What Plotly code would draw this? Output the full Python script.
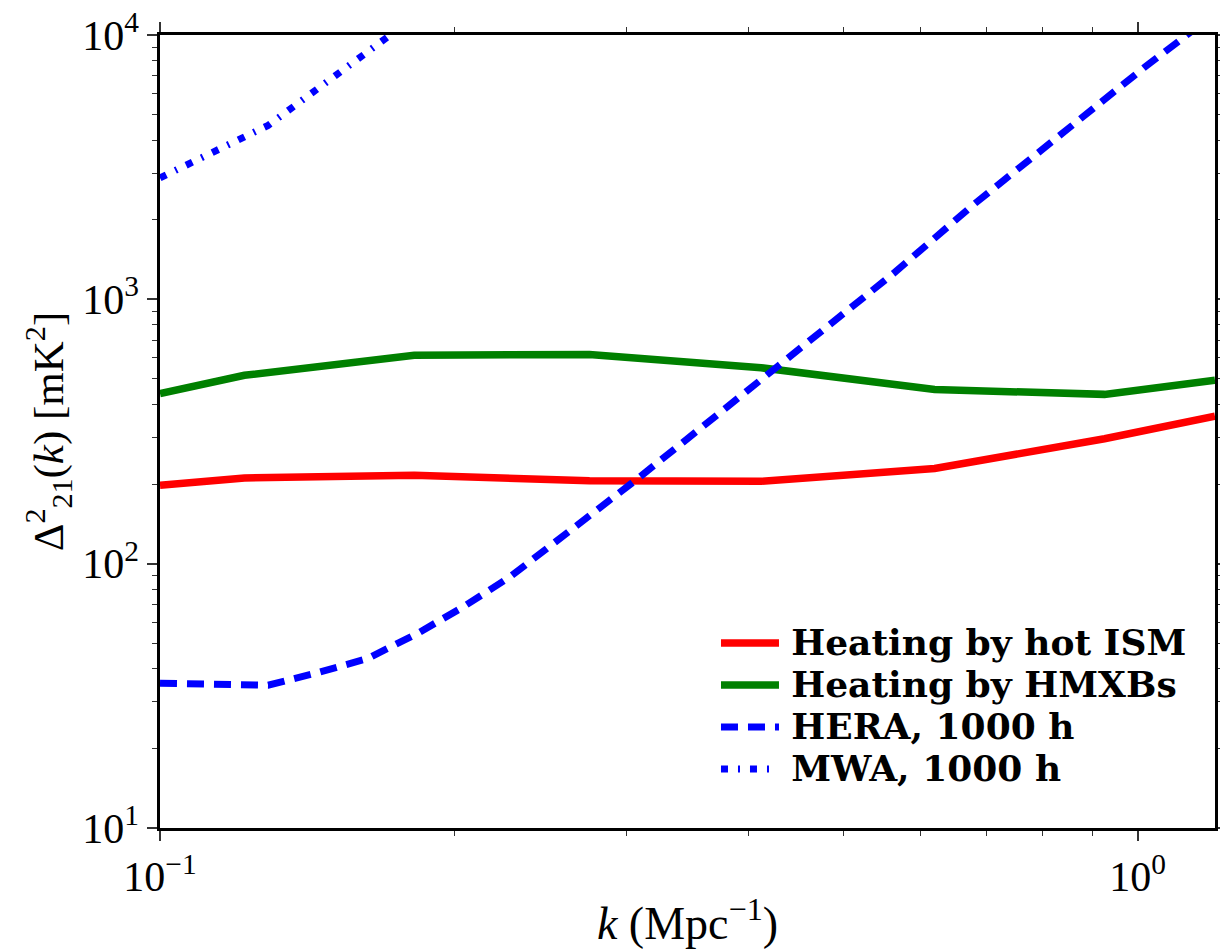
import plotly.graph_objects as go

# Model 21-cm power spectra, k in Mpc^-1, Delta^2 in mK^2
k_model = [0.1, 0.122, 0.182, 0.275, 0.412, 0.62, 0.925, 1.2]
ism_power = [198, 211, 216, 206, 205, 229, 297, 361]
hmxb_power = [440, 516, 614, 619, 551, 456, 437, 494]

# Thermal-noise sensitivity of the arrays (1000 h)
k_hera = [0.1, 0.129, 0.1446, 0.1632, 0.1836, 0.2041, 0.2279, 0.2522, 0.3082,
          0.3764, 0.4599, 0.5623, 0.6813, 0.8288, 1.0166, 1.1215, 1.2]
hera_noise = [35.3, 34.7, 38.6, 43.8, 54.6, 68.5, 89.0, 119, 210,
              380, 689, 1250, 2300, 4130, 7550, 9960, 12100]

k_mwa = [0.1, 0.129, 0.1446, 0.1632, 0.1836]
mwa_noise = [2880, 4550, 6220, 8650, 11950]

x_tickvals = [0.1, 1.0]
x_ticktext = ["10<sup>\u22121</sup>", "10<sup>0</sup>"]
y_tickvals = [10, 100, 1000, 10000]
y_ticktext = ["10<sup>1</sup>", "10<sup>2</sup>", "10<sup>3</sup>", "10<sup>4</sup>"]

x_minor = [m * 10 ** e for e in (-2, -1, 0) for m in range(2, 10)]
y_minor = [m * 10 ** e for e in (1, 2, 3) for m in range(2, 10)]

SERIF = "Liberation Serif, Times New Roman, serif"
LEGEND_FONT = "DejaVu Serif, serif"


def legend_label(text):
    return '<span style="font-size:36px">\u2009<b>' + text + '</b></span>'


fig = go.Figure()
fig.add_trace(go.Scatter(x=k_model, y=ism_power, mode="lines",
                         name=legend_label("Heating by hot ISM"),
                         line=dict(color="#ff0000", width=7.5)))
fig.add_trace(go.Scatter(x=k_model, y=hmxb_power, mode="lines",
                         name=legend_label("Heating by HMXBs"),
                         line=dict(color="#008000", width=7.5)))
fig.add_trace(go.Scatter(x=k_hera, y=hera_noise, mode="lines",
                         name=legend_label("HERA, 1000 h"),
                         line=dict(color="#0000ff", width=7, dash="17px,10px")))
fig.add_trace(go.Scatter(x=k_mwa, y=mwa_noise, mode="lines",
                         name=legend_label("MWA, 1000 h"),
                         line=dict(color="#0000ff", width=7, dash="7px,10px,2px,10px")))

axis_common = dict(
    type="log", automargin=False,
    showline=True, linecolor="black", linewidth=2.5, mirror="allticks",
    ticks="outside", ticklen=10, tickwidth=1.5, tickcolor="#333333",
    showgrid=False, zeroline=False,
    tickfont=dict(family=SERIF, size=42, color="black"),
)

fig.update_xaxes(
    **axis_common,
    range=[-1, 0.0792],
    tickmode="array", tickvals=x_tickvals, ticktext=x_ticktext,
    minor=dict(ticks="outside", ticklen=5, tickwidth=1.2, tickcolor="#333333",
               tickmode="array", tickvals=x_minor, showgrid=False),
    title=dict(text="<i>k</i> (Mpc<sup>\u22121</sup>)",
               font=dict(family=SERIF, size=46, color="black"), standoff=8),
)
fig.update_yaxes(
    **axis_common,
    range=[1, 4],
    tickmode="array", tickvals=y_tickvals, ticktext=y_ticktext,
    minor=dict(ticks="outside", ticklen=5, tickwidth=1.2, tickcolor="#333333",
               tickmode="array", tickvals=y_minor, showgrid=False),
    title=dict(text="\u0394<sup>2</sup><sub>21</sub>(<i>k</i>) [mK<sup>2</sup>]",
               font=dict(family=SERIF, size=43, color="black"), standoff=6),
)

fig.update_layout(
    width=1220, height=949,
    margin=dict(l=160, r=5, t=35, b=121, pad=0),
    paper_bgcolor="white", plot_bgcolor="white",
    showlegend=True,
    legend=dict(
        x=0.527, y=0.266, xanchor="left", yanchor="top",
        bgcolor="rgba(0,0,0,0)", borderwidth=0,
        font=dict(family=LEGEND_FONT, size=30, color="black"),
        itemwidth=58,
    ),
)

fig.write_html("out.html")
